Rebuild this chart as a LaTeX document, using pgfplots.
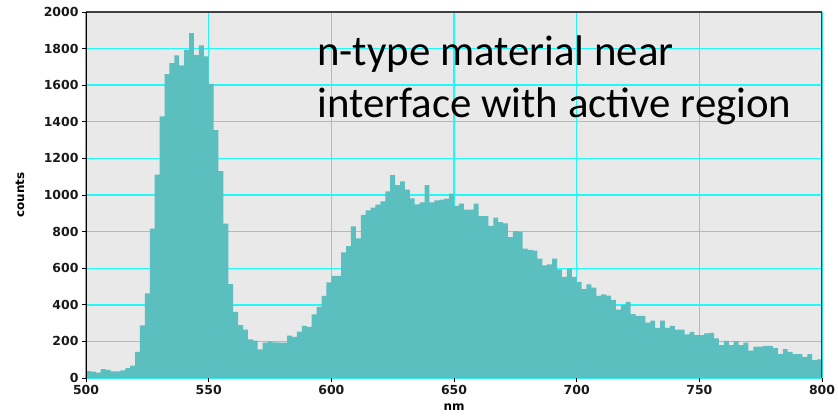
\documentclass[border=0pt]{standalone}
\usepackage{fontspec}
\setmainfont{DejaVu Sans}
\newfontfamily\titlefont{Carlito}
\usepackage{pgfplots}
\pgfplotsset{compat=1.18}
\definecolor{barc}{HTML}{5BBFBF}
\definecolor{bgc}{HTML}{E9E9E9}
\definecolor{gridc}{HTML}{22F8F8}
\begin{document}
\begin{tikzpicture}
\useasboundingbox (-86bp,-40bp) rectangle (752bp,378bp);
\begin{axis}[
 scale only axis, width=736bp, height=366bp,
 xmin=500, xmax=800, ymin=0, ymax=2000,
 xtick={500,550,...,800}, ytick={0,200,...,2000},
 grid=major, major grid style={gridc, line width=1.4bp},
 axis background/.style={fill=bgc},
 axis line style={draw=none},
 tick pos=left, tick align=outside, major tick length=4bp,
 tick style={black, line width=0.8bp},
 ticklabel style={font=\bfseries\fontsize{12.5}{14}\selectfont, text=black!90},
 /pgf/number format/assume math mode=true,
 /pgf/number format/1000 sep={},
 xlabel={nm}, ylabel={counts},
 label style={font=\bfseries\fontsize{12}{14}\selectfont},
 x label style={at={(rel axis cs:0.5,0)}, anchor=center, yshift=-29bp},
 y label style={at={(rel axis cs:0,0.5)}, anchor=center, yshift=66bp},
]
\addplot[const plot, fill=barc, draw=none] coordinates {
(500,38)(502,35)(504,30)(506,49)(508,44)(510,36)(512,36)(514,42)(516,54)(518,68)
(520,143)(522,287)(524,463)(526,816)(528,1112)(530,1429)(532,1661)(534,1720)(536,1763)(538,1709)
(540,1791)(542,1885)(544,1764)(546,1817)(548,1757)(550,1607)(552,1354)(554,1130)(556,843)(558,513)
(560,362)(562,289)(564,265)(566,211)(568,204)(570,156)(572,193)(574,200)(576,195)(578,193)
(580,193)(582,231)(584,225)(586,253)(588,285)(590,280)(592,347)(594,389)(596,449)(598,523)
(600,558)(602,558)(604,687)(606,721)(608,829)(610,763)(612,891)(614,916)(616,931)(618,947)
(620,965)(622,1020)(624,1109)(626,1054)(628,1074)(630,1029)(632,981)(634,949)(636,960)(638,1054)
(640,960)(642,971)(644,975)(646,980)(648,1007)(650,940)(652,953)(654,920)(656,920)(658,953)
(660,885)(662,885)(664,831)(666,876)(668,852)(670,845)(672,770)(674,803)(676,798)(678,707)
(680,700)(682,696)(684,652)(686,616)(688,621)(690,652)(692,594)(694,552)(696,597)(698,552)
(700,525)(702,485)(704,512)(706,494)(708,449)(710,457)(712,450)(714,427)(716,374)(718,398)
(720,416)(722,349)(724,340)(726,340)(728,302)(730,313)(732,274)(734,313)(736,274)(738,285)
(740,265)(742,265)(744,238)(746,252)(748,234)(750,234)(752,244)(754,247)(756,216)(758,180)
(760,203)(762,180)(764,202)(766,180)(768,193)(770,149)(772,171)(774,171)(776,176)(778,176)
(780,165)(782,131)(784,158)(786,143)(788,131)(790,131)(792,116)(794,131)(796,98)(798,102)
(800,102)
} \closedcycle;
\draw[black!75, line width=1.2bp] (rel axis cs:0,1) -- (rel axis cs:1,1) -- (rel axis cs:1,0);
\draw[black, line width=1.2bp] (rel axis cs:0,0) -- (rel axis cs:0,1);
\node[anchor=base west, inner sep=0, font=\titlefont\fontsize{43}{46}\selectfont] at (rel axis cs:0.3139,0.855) {n-type material near};
\node[anchor=base west, inner sep=0, font=\titlefont\fontsize{43}{46}\selectfont] at (rel axis cs:0.3139,0.713) {interface with active region};
\end{axis}
\end{tikzpicture}
\end{document}
